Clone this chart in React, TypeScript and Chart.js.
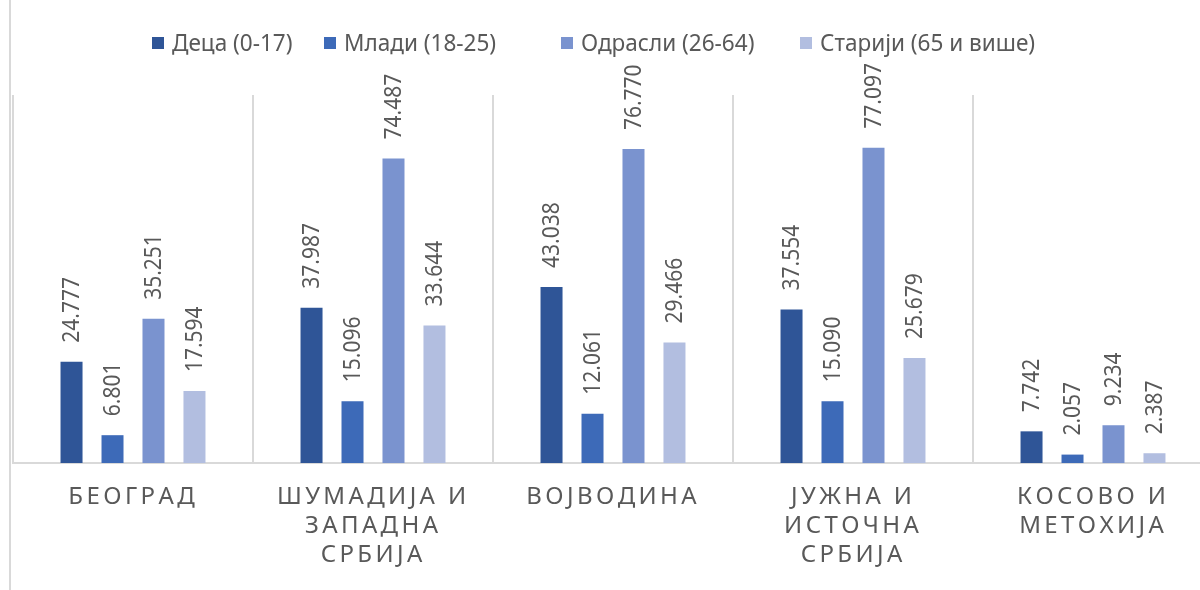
import React, { useEffect, useRef } from "react";
import { Chart, registerables } from "chart.js";

Chart.register(...registerables);

const categoryLines: string[][] = [
  ["БЕОГРАД"],
  ["ШУМАДИЈА И", "ЗАПАДНА", "СРБИЈА"],
  ["ВОЈВОДИНА"],
  ["ЈУЖНА И", "ИСТОЧНА", "СРБИЈА"],
  ["КОСОВО И", "МЕТОХИЈА"],
];
const categories = categoryLines.map((l) => l.join(" "));

const seriesNames = ["Деца (0-17)", "Млади (18-25)", "Одрасли (26-64)", "Старији (65 и више)"];
const deca = [24.777, 37.987, 43.038, 37.554, 7.742];
const mladi = [6.801, 15.096, 12.061, 15.09, 2.057];
const odrasli = [35.251, 74.487, 76.77, 77.097, 9.234];
const stariji = [17.594, 33.644, 29.466, 25.679, 2.387];
const seriesValues = [deca, mladi, odrasli, stariji];
const seriesColors = ["#2F5597", "#3D6AB8", "#7A93CF", "#B2BEE0"];

const TEXT_COLOR = "#595959";
const FONT = '"Noto Sans", "Open Sans", "Liberation Sans", sans-serif';

const frameAndLegendPlugin = {
  id: "frameAndLegend",
  beforeDraw(chart: any) {
    const ctx = chart.ctx;
    ctx.save();
    ctx.fillStyle = "#ffffff";
    ctx.fillRect(0, 0, chart.width, chart.height);
    ctx.fillStyle = "#d9d9d9";
    ctx.fillRect(9, 0, 2, chart.height);
    ctx.restore();
  },
  afterDraw(chart: any) {
    const ctx = chart.ctx;
    const legendX = [152, 324, 561, 800];
    ctx.save();
    ctx.font = `23px ${FONT}`;
    ctx.textBaseline = "alphabetic";
    ctx.textAlign = "left";
    chart.data.datasets.forEach((ds: any, i: number) => {
      ctx.fillStyle = ds.backgroundColor;
      ctx.fillRect(legendX[i], 37, 12, 12);
      ctx.fillStyle = TEXT_COLOR;
      ctx.save();
      ctx.translate(legendX[i] + 20, 51);
      ctx.scale(0.98, 1.05);
      ctx.fillText(ds.label, 0, 0);
      ctx.restore();
    });
    ctx.restore();
  },
};

const valueLabelPlugin = {
  id: "valueLabels",
  afterDatasetsDraw(chart: any) {
    const ctx = chart.ctx;
    ctx.save();
    ctx.font = `21px ${FONT}`;
    ctx.fillStyle = TEXT_COLOR;
    chart.data.datasets.forEach((ds: any, i: number) => {
      const meta = chart.getDatasetMeta(i);
      meta.data.forEach((bar: any, j: number) => {
        const v = ds.data[j] as number;
        ctx.save();
        ctx.translate(bar.x + 1, bar.y - 19);
        ctx.rotate(-Math.PI / 2);
        ctx.scale(1, 1.08);
        ctx.textAlign = "left";
        ctx.textBaseline = "middle";
        ctx.fillText(v.toFixed(3), 0, 0);
        ctx.restore();
      });
    });
    ctx.restore();
  },
};

const categoryLabelPlugin = {
  id: "categoryLabels",
  afterDraw(chart: any) {
    const ctx = chart.ctx;
    const xScale = chart.scales.x;
    const spacing = 3.4;
    const firstBaseline = chart.chartArea.bottom + 41;
    const lineGap = 29;
    ctx.save();
    ctx.font = `24px ${FONT}`;
    ctx.fillStyle = TEXT_COLOR;
    ctx.textAlign = "left";
    ctx.textBaseline = "alphabetic";
    categoryLines.forEach((lines, i) => {
      const cx = xScale.getPixelForValue(i);
      lines.forEach((line, k) => {
        const chars = Array.from(line);
        const widths = chars.map((c) => ctx.measureText(c).width);
        const total = widths.reduce((a, b) => a + b, 0) + spacing * (chars.length - 1);
        let x = cx - total / 2 - 1.5;
        const y = firstBaseline + k * lineGap;
        chars.forEach((c, n) => {
          ctx.fillText(c, x, y);
          x += widths[n] + spacing;
        });
      });
    });
    ctx.restore();
  },
};

export default function App() {
  const canvasRef = useRef<HTMLCanvasElement | null>(null);

  useEffect(() => {
    const canvas = canvasRef.current;
    if (!canvas) return;
    const chart = new Chart(canvas, {
      type: "bar",
      data: {
        labels: categories,
        datasets: seriesNames.map((name, i) => ({
          label: name,
          data: seriesValues[i],
          backgroundColor: seriesColors[i],
          borderWidth: 0,
          categoryPercentage: 0.683,
          barPercentage: 0.537,
        })),
      },
      options: {
        responsive: false,
        maintainAspectRatio: false,
        animation: false,
        devicePixelRatio: 1,
        layout: { padding: { left: 13, right: 3, top: 95, bottom: 127 } },
        plugins: {
          legend: { display: false },
          tooltip: { enabled: false },
        },
        scales: {
          x: {
            type: "category",
            offset: true,
            grid: {
              display: true,
              offset: true,
              color: "#d9d9d9",
              lineWidth: 2,
              drawTicks: false,
            },
            border: { display: true, color: "#d9d9d9", width: 2 },
            ticks: { display: false },
          },
          y: {
            display: false,
            min: 0,
            max: 90,
          },
        },
      },
      plugins: [frameAndLegendPlugin, valueLabelPlugin, categoryLabelPlugin],
    });
    return () => chart.destroy();
  }, []);

  return (
    <div
      style={{
        position: "absolute",
        left: 0,
        top: 0,
        width: 1200,
        height: 590,
        overflow: "hidden",
        background: "#ffffff",
      }}
    >
      <canvas
        ref={canvasRef}
        width={1216}
        height={590}
        style={{ width: 1216, height: 590, display: "block" }}
      />
    </div>
  );
}
